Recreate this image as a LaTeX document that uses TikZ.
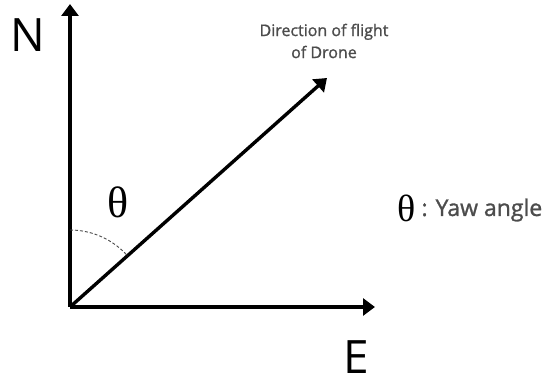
\documentclass[tikz,border=0pt]{standalone}
\usepackage{fontspec}
\setsansfont{Open Sans}
\newfontfamily\grk{Liberation Serif}
\newfontfamily\notefont{Open Sans}[FakeBold=1.2]
\usetikzlibrary{arrows.meta}
\begin{document}
\begin{tikzpicture}[x=1pt,y=-1pt,
  axis/.style={line width=3.4pt,-{Triangle[length=12pt,width=17pt]}},
  lbl/.style={font=\sffamily\fontsize{46}{46}\selectfont,inner sep=0pt,anchor=base west},
  note/.style={font=\notefont\fontsize{16}{22}\selectfont,text=black!70,align=center}]
\useasboundingbox (0,0) rectangle (542,385);
\coordinate (O) at (70,307);
\coordinate (Ntip) at (70,4);
\coordinate (Etip) at (375,307);
\coordinate (Dtip) at (327,78);
\draw[axis] (O) -- (Ntip);
\draw[axis] (O) -- (Etip);
\draw[axis] (O) -- (Dtip);
\draw[line width=0.9pt,dash pattern=on 3pt off 2pt,black!70] (70,230) arc[start angle=-90,end angle=-41.5,radius=77];
\node[lbl] (N) at (10,52) {N};
\node[lbl] (E) at (343,374) {E};
\node[font=\grk\fontsize{44}{44}\selectfont] (th) at (118,202) {θ};
\node[note] (dir) at (324,41) {Direction of flight\\of Drone};
\node[font=\grk\fontsize{38}{38}\selectfont,anchor=east] (th2) at (419,208) {θ};
\node[font=\notefont\fontsize{23}{26}\selectfont,text=black!70,anchor=west] (yaw) at (418,210) {: Yaw angle};
\end{tikzpicture}
\end{document}
